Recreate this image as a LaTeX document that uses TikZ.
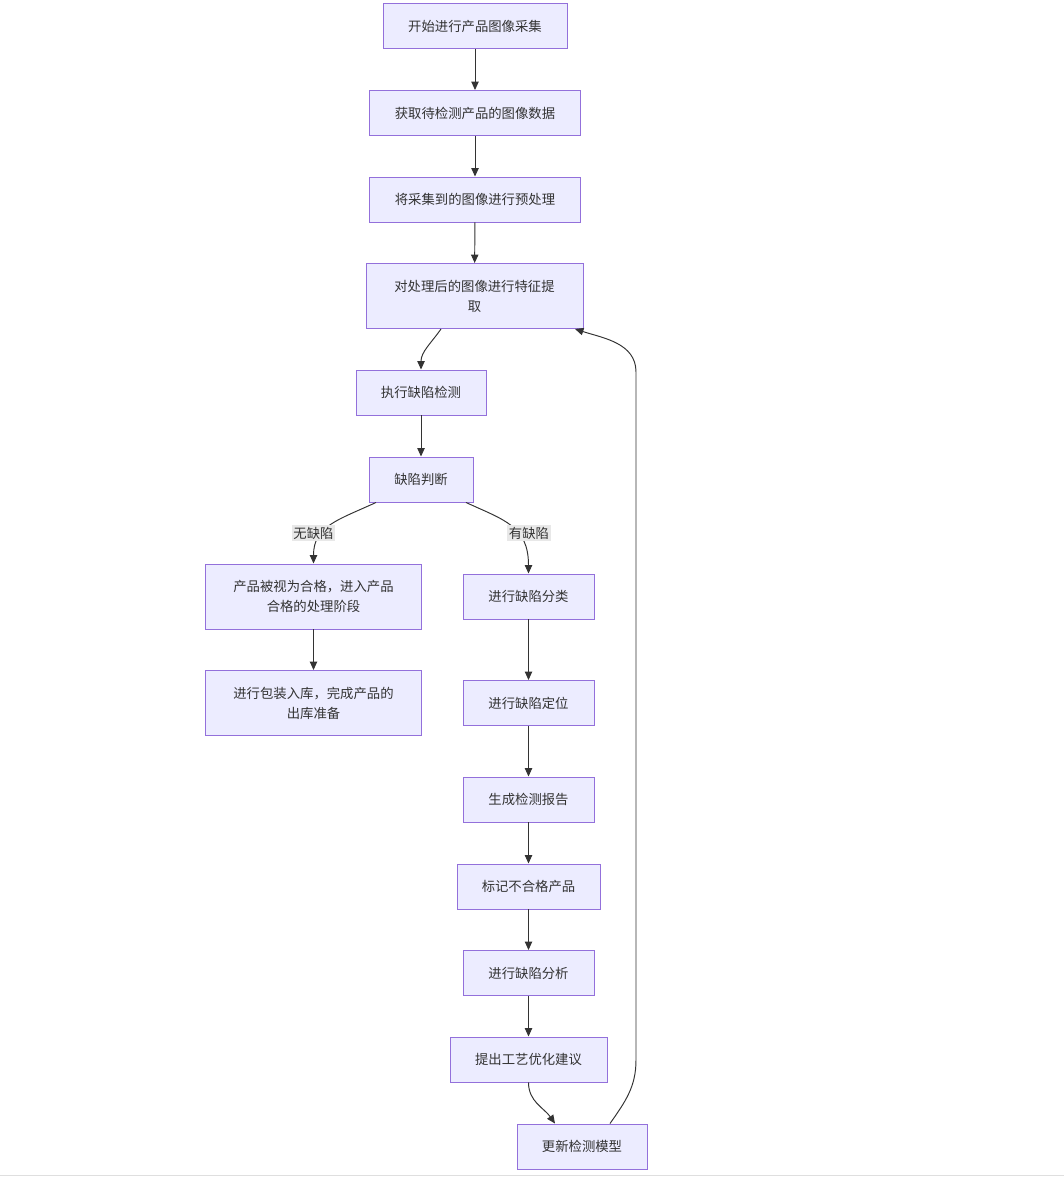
\documentclass[tikz,border=0pt]{standalone}
\usepackage{fontspec}
\setmainfont{Noto Sans CJK SC}
\usetikzlibrary{arrows.meta,calc}
\definecolor{boxfill}{HTML}{ECECFF}
\definecolor{boxline}{HTML}{9370DB}
\definecolor{ink}{HTML}{333333}
\definecolor{lblbg}{HTML}{E8E8E8}
\begin{document}
\begin{tikzpicture}[x=0.02cm,y=-0.02cm,
    box/.style={draw=boxline,fill=boxfill,line width=0.55pt,minimum width=#1,
      minimum height=0.9cm,inner sep=0pt,align=center,text=ink,
      font=\fontsize{7.6}{11.4}\selectfont},
    tall/.style={minimum height=1.3cm},
    flow/.style={draw=ink,line width=0.55pt,-{Triangle[length=4.8pt,width=4.2pt]}},
    lbl/.style={fill=lblbg,inner sep=1pt,text=ink,font=\fontsize{7.6}{9}\selectfont}]
  \useasboundingbox (0,0) rectangle (1064,1177);
  \draw[gray!25,line width=1pt] (0,1175.5) -- (1064,1175.5);

  \node[box=3.68cm] (n1) at (475,26) {开始进行产品图像采集};
  \node[box=4.22cm] (n2) at (475,113) {获取待检测产品的图像数据};
  \node[box=4.22cm] (n3) at (475,199.5) {将采集到的图像进行预处理};
  \node[box=4.34cm,tall] (n4) at (474.5,296) {对处理后的图像进行特征提\\取};
  \node[box=2.6cm] (n5) at (421,392.5) {执行缺陷检测};
  \node[box=2.08cm] (n6) at (421,479.5) {缺陷判断};
  \node[box=4.34cm,tall] (n7) at (313.5,596.5) {产品被视为合格，进入产品\\合格的处理阶段};
  \node[box=4.34cm,tall] (n8) at (313.5,703) {进行包装入库，完成产品的\\出库准备};
  \node[box=2.62cm] (n9) at (528.5,596.5) {进行缺陷分类};
  \node[box=2.62cm] (n10) at (528.5,703) {进行缺陷定位};
  \node[box=2.62cm] (n11) at (528.5,799.5) {生成检测报告};
  \node[box=2.86cm] (n12) at (528.5,886.5) {标记不合格产品};
  \node[box=2.62cm] (n13) at (528.5,973) {进行缺陷分析};
  \node[box=3.14cm] (n14) at (528.5,1059.5) {提出工艺优化建议};
  \node[box=2.6cm] (n15) at (582,1146.5) {更新检测模型};

  \foreach \a/\b in {n1/n2,n2/n3,n3/n4,n5/n6,n7/n8,n9/n10,n10/n11,n11/n12,n12/n13,n13/n14}
    \draw[flow] (\a) -- (\b);

  \draw[flow] ($(n4.south)+(-33.5,0)$) to[out=-125,in=90] (n5.north);
  \draw[flow] ($(n6.south)+(-45,0)$) .. controls (338,520) and (313.5,526) .. (n7.north);
  \draw[flow] ($(n6.south)+(45,0)$) .. controls (504,520) and (528.5,526) .. (n9.north);
  \draw[flow] (n14.south) to[out=-90,in=125] ($(n15.north)+(-27,0)$);

  \coordinate (r1) at (636,1060);
  \coordinate (r2) at (636,372);
  \draw[flow] ($(n15.north)+(28,0)$) to[out=55,in=-90] (r1) -- (r2)
    to[out=90,in=-18] ($(n4.south)+(100.5,0)$);

  \node[lbl] (l1) at (313.5,533) {无缺陷};
  \node[lbl] (l2) at (529,533) {有缺陷};
\end{tikzpicture}
\end{document}
